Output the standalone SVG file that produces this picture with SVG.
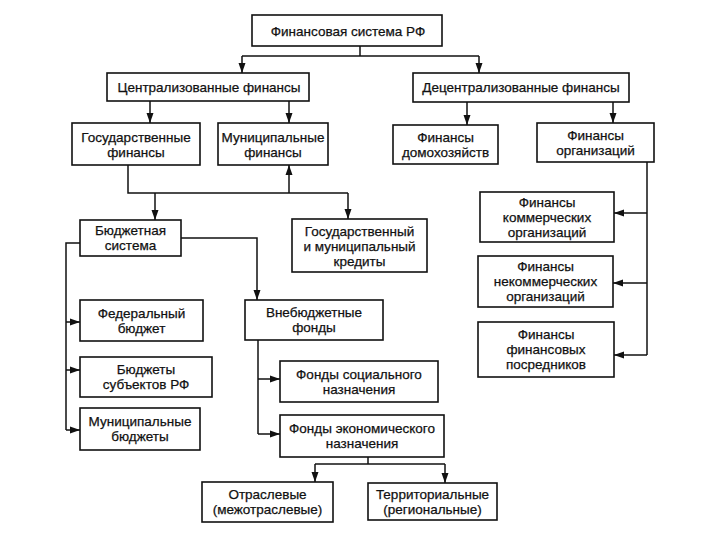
<svg xmlns="http://www.w3.org/2000/svg" width="720" height="540" viewBox="0 0 720 540">
<defs>
<marker id="ah" markerUnits="userSpaceOnUse" markerWidth="10" markerHeight="10" viewBox="0 0 10 10" refX="10" refY="5" orient="auto">
<path d="M0,1.5 L10,5 L0,8.5 Z" fill="#111"/>
</marker>
</defs>
<style>
rect{fill:#fff;stroke:#111;stroke-width:1.6}
text{font-family:"Liberation Sans",Arial,sans-serif;font-size:13.5px;fill:#111;stroke:#111;stroke-width:0.25;text-anchor:middle;dominant-baseline:central}
.c line,.c polyline{stroke:#111;stroke-width:1.5;fill:none}
.a{marker-end:url(#ah)}
</style>
<rect x="0" y="0" width="720" height="540" style="fill:#fff;stroke:none"/>
<g class="c" id="connectors">
<line x1="360" y1="46" x2="360" y2="56"/>
<line x1="242" y1="56" x2="479" y2="56"/>
<line class="a" x1="242" y1="56" x2="242" y2="73"/>
<line class="a" x1="479" y1="56" x2="479" y2="73"/>
<line class="a" x1="150" y1="101" x2="150" y2="123"/>
<line class="a" x1="289" y1="101" x2="289" y2="123"/>
<line class="a" x1="467" y1="102" x2="467" y2="125"/>
<line class="a" x1="613" y1="102" x2="613" y2="123"/>
<polyline points="128,165 128,193 348,193"/>
<line class="a" x1="289" y1="193" x2="289" y2="165"/>
<line class="a" x1="155" y1="193" x2="155" y2="220"/>
<line class="a" x1="348" y1="193" x2="348" y2="219"/>
<polyline points="80,243 66,243 66,430"/>
<line class="a" x1="66" y1="322" x2="80" y2="322"/>
<line class="a" x1="66" y1="370" x2="80" y2="370"/>
<line class="a" x1="66" y1="430" x2="80" y2="430"/>
<polyline class="a" points="181,238 257,238 257,300"/>
<line x1="258" y1="340" x2="258" y2="434"/>
<line class="a" x1="258" y1="379" x2="280" y2="379"/>
<line class="a" x1="258" y1="434" x2="280" y2="434"/>
<line x1="368" y1="457" x2="368" y2="464"/>
<line x1="315" y1="464" x2="445" y2="464"/>
<line class="a" x1="315" y1="464" x2="315" y2="482"/>
<line class="a" x1="445" y1="464" x2="445" y2="483"/>
<line x1="647" y1="162" x2="647" y2="355"/>
<line class="a" x1="647" y1="213" x2="614" y2="213"/>
<line class="a" x1="647" y1="283" x2="613" y2="283"/>
<line class="a" x1="647" y1="355" x2="614" y2="355"/>
</g>
<g id="n_root"><rect x="252" y="15" width="190" height="31"/><text x="348" y="31">Финансовая система РФ</text></g>
<g id="n_central"><rect x="107" y="73" width="202" height="28"/><text x="209" y="87">Централизованные финансы</text></g>
<g id="n_decentral"><rect x="413" y="73" width="216" height="29"/><text x="521" y="87.5">Децентрализованные финансы</text></g>
<g id="n_gosfin"><rect x="72" y="123" width="128" height="42"/><text x="136" y="137">Государственные</text><text x="136" y="152">финансы</text></g>
<g id="n_munfin"><rect x="218" y="123" width="110" height="42"/><text x="273" y="137">Муниципальные</text><text x="273" y="152">финансы</text></g>
<g id="n_household"><rect x="393" y="125" width="105" height="39"/><text x="445.5" y="137">Финансы</text><text x="445.5" y="152">домохозяйств</text></g>
<g id="n_org"><rect x="537" y="123" width="117" height="39"/><text x="595.5" y="135">Финансы</text><text x="595.5" y="150">организаций</text></g>
<g id="n_budget"><rect x="80" y="220" width="101" height="36"/><text x="130.5" y="230.5">Бюджетная</text><text x="130.5" y="245.5">система</text></g>
<g id="n_credit"><rect x="292" y="219" width="135" height="53"/><text x="359.5" y="231.5">Государственный</text><text x="359.5" y="246.5">и муниципальный</text><text x="359.5" y="261.5">кредиты</text></g>
<g id="n_federal"><rect x="80" y="300" width="123" height="41"/><text x="141.5" y="313">Федеральный</text><text x="141.5" y="328">бюджет</text></g>
<g id="n_subjects"><rect x="80" y="357" width="132" height="40"/><text x="146" y="369.5">Бюджеты</text><text x="146" y="384.5">субъектов РФ</text></g>
<g id="n_munbud"><rect x="80" y="408" width="120" height="42"/><text x="140" y="421">Муниципальные</text><text x="140" y="436">бюджеты</text></g>
<g id="n_extra"><rect x="245" y="300" width="138" height="40"/><text x="314" y="312.5">Внебюджетные</text><text x="314" y="327.5">фонды</text></g>
<g id="n_social"><rect x="280" y="361" width="158" height="41"/><text x="359" y="374">Фонды социального</text><text x="359" y="389">назначения</text></g>
<g id="n_econ"><rect x="280" y="415" width="164" height="42"/><text x="362" y="428">Фонды экономического</text><text x="362" y="443">назначения</text></g>
<g id="n_branch"><rect x="202" y="482" width="131" height="40"/><text x="267.5" y="494.5">Отраслевые</text><text x="267.5" y="509.5">(межотраслевые)</text></g>
<g id="n_terr"><rect x="368" y="483" width="129" height="37"/><text x="432.5" y="494">Территориальные</text><text x="432.5" y="509">(региональные)</text></g>
<g id="n_comm"><rect x="480" y="192" width="134" height="50"/><text x="547" y="202">Финансы</text><text x="547" y="217">коммерческих</text><text x="547" y="232">организаций</text></g>
<g id="n_noncomm"><rect x="478" y="256" width="135" height="51"/><text x="545.5" y="266.5">Финансы</text><text x="545.5" y="281.5">некоммерческих</text><text x="545.5" y="296.5">организаций</text></g>
<g id="n_interm"><rect x="478" y="322" width="136" height="55"/><text x="546" y="334.5">Финансы</text><text x="546" y="349.5">финансовых</text><text x="546" y="364.5">посредников</text></g>
</svg>
